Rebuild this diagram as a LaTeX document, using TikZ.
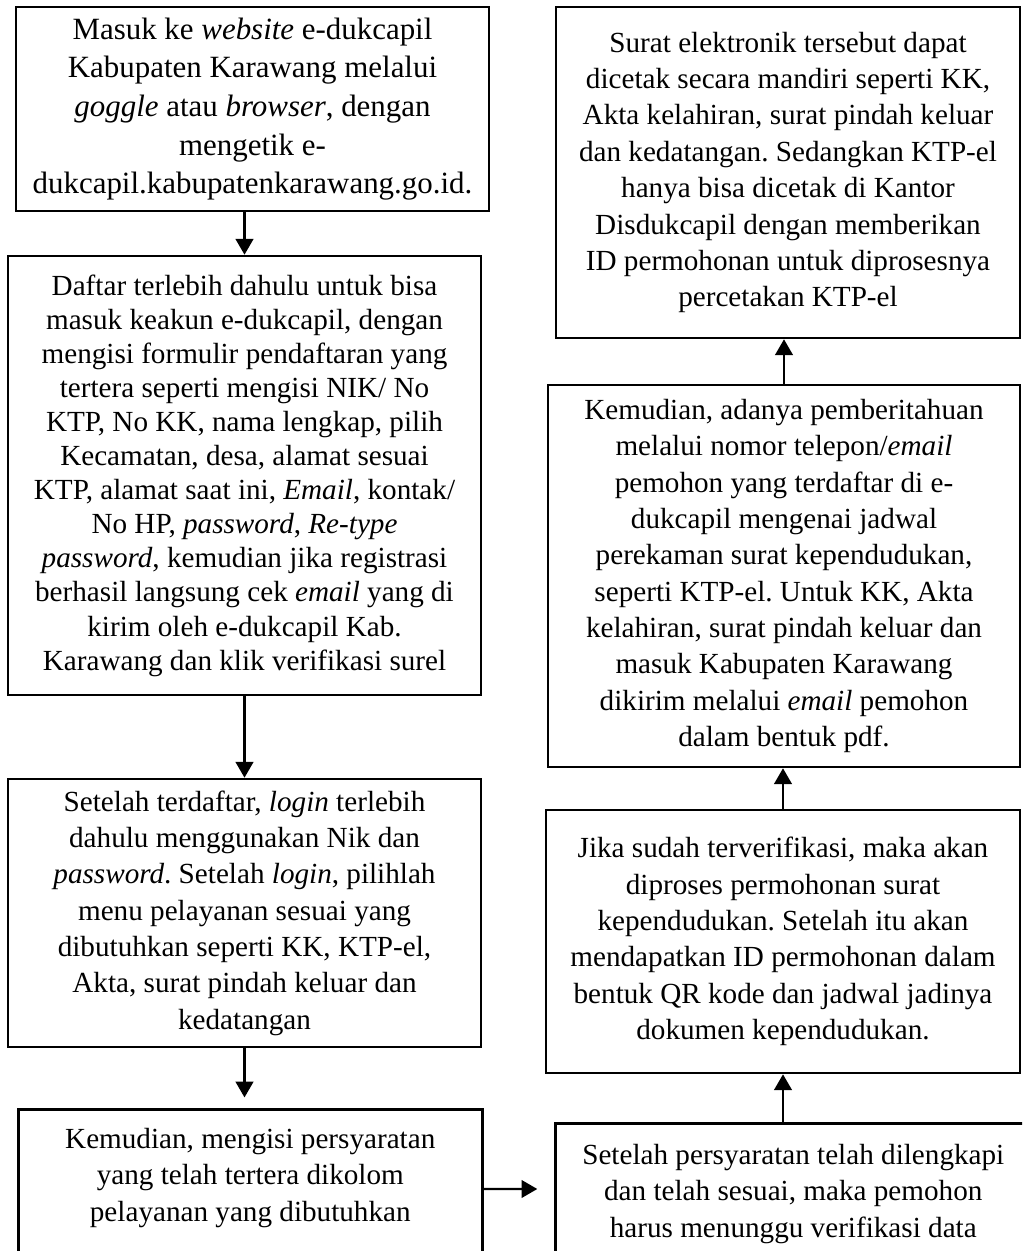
\documentclass[tikz,border=0pt]{standalone}
\usepackage{fontspec}
\setmainfont{Liberation Serif}
\usetikzlibrary{arrows.meta,positioning}
\frenchspacing

\tikzset{
  stepbox/.style={draw, line width=1.5pt, align=center, inner sep=2pt,
    font=\fontsize{16.6}{20.7}\selectfont},
  flowarrow/.style={-{Triangle[width=10pt,length=9pt]}, line width=1.4pt}
}

\begin{document}
\begin{tikzpicture}[x=0.02cm, y=-0.02cm, line cap=butt, line join=miter]
  \useasboundingbox (0,0) rectangle (1022,1251);
  \clip (0,0) rectangle (1022,1251);

  % left column
  \node[stepbox, minimum width=9.46cm, minimum height=4.08cm,
        font=\fontsize{17.6}{22}\selectfont] (masuk) at (252.5,109)
      {Masuk ke \textit{website} e-dukcapil\\
       Kabupaten Karawang melalui\\
       \textit{goggle} atau \textit{browser}, dengan\\
       mengetik e-\\
       dukcapil.kabupatenkarawang.go.id.};

  \node[stepbox, minimum width=9.46cm, minimum height=8.78cm,
        font=\fontsize{16.6}{19.4}\selectfont] (daftar) at (244.5,475.5)
      {Daftar terlebih dahulu untuk bisa\\
       masuk keakun e-dukcapil, dengan\\
       mengisi formulir pendaftaran yang\\
       tertera seperti mengisi NIK/ No\\
       KTP, No KK, nama lengkap, pilih\\
       Kecamatan, desa, alamat sesuai\\
       KTP, alamat saat ini, \textit{Email}, kontak/\\
       No HP, \textit{password}, \textit{Re-type}\\
       \textit{password}, kemudian jika registrasi\\
       berhasil langsung cek \textit{email} yang di\\
       kirim oleh e-dukcapil Kab.\\
       Karawang dan klik verifikasi surel};

  \node[stepbox, minimum width=9.46cm, minimum height=5.36cm] (login) at (244.5,913)
      {Setelah terdaftar, \textit{login} terlebih\\
       dahulu menggunakan Nik dan\\
       \textit{password}. Setelah \textit{login}, pilihlah\\
       menu pelayanan sesuai yang\\
       dibutuhkan seperti KK, KTP-el,\\
       Akta, surat pindah keluar dan\\
       kedatangan};

  \node[stepbox, anchor=north west, minimum width=9.28cm, inner ysep=0.38cm,
        text depth=3cm] (syarat) at (17,1108)
      {Kemudian, mengisi persyaratan\\
       yang telah tertera dikolom\\
       pelayanan yang dibutuhkan};

  % right column
  \node[stepbox, anchor=north west, minimum width=9.52cm, inner ysep=0.42cm,
        text depth=3cm] (tunggu) at (554,1122)
      {Setelah persyaratan telah dilengkapi\\
       dan telah sesuai, maka pemohon\\
       harus menunggu verifikasi data};

  \node[stepbox, minimum width=9.48cm, minimum height=5.26cm] (proses) at (783,941.5)
      {Jika sudah terverifikasi, maka akan\\
       diproses permohonan surat\\
       kependudukan. Setelah itu akan\\
       mendapatkan ID permohonan dalam\\
       bentuk QR kode dan jadwal jadinya\\
       dokumen kependudukan.};

  \node[stepbox, minimum width=9.44cm, minimum height=7.64cm] (jadwal) at (784,576)
      {Kemudian, adanya pemberitahuan\\
       melalui nomor telepon/\textit{email}\\
       pemohon yang terdaftar di e-\\
       dukcapil mengenai jadwal\\
       perekaman surat kependudukan,\\
       seperti KTP-el. Untuk KK, Akta\\
       kelahiran, surat pindah keluar dan\\
       masuk Kabupaten Karawang\\
       dikirim melalui \textit{email} pemohon\\
       dalam bentuk pdf.};

  \node[stepbox, minimum width=9.28cm, minimum height=6.62cm] (cetak) at (788,172.5)
      {Surat elektronik tersebut dapat\\
       dicetak secara mandiri seperti KK,\\
       Akta kelahiran, surat pindah keluar\\
       dan kedatangan. Sedangkan KTP-el\\
       hanya bisa dicetak di Kantor\\
       Disdukcapil dengan memberikan\\
       ID permohonan untuk diprosesnya\\
       percetakan KTP-el};

  % arrows
  \draw[flowarrow] (masuk.south -| daftar.north) -- (daftar.north);
  \draw[flowarrow] (daftar.south) -- (login.north);
  \draw[flowarrow, shorten >=6pt] (login.south) -- (login.south |- syarat.north);
  \draw[flowarrow, shorten >=9.5pt] ([yshift=-1.62cm]syarat.north east)
      -- ([yshift=-1.34cm]tunggu.north west);
  \draw[flowarrow] (proses.south |- tunggu.north) -- (proses.south);
  \draw[flowarrow] (proses.north) -- (proses.north |- jadwal.south);
  \draw[flowarrow] (jadwal.north) -- (jadwal.north |- cetak.south);
\end{tikzpicture}
\end{document}
